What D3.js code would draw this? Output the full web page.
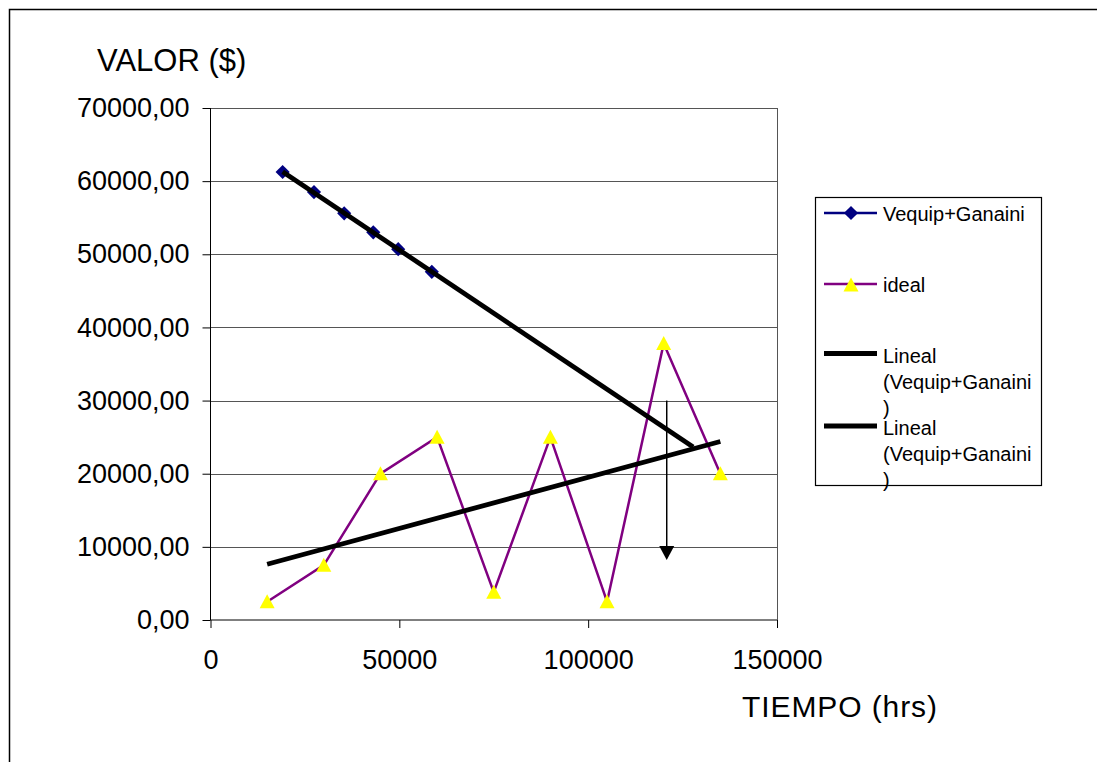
<!DOCTYPE html>
<html lang="es">
<head>
<meta charset="UTF-8"/>
<title>Valor vs Tiempo</title>
<script src="https://d3js.org/d3.v7.min.js"></script>
<style>
	body{ margin:0; background:#fff; }
	svg text{ font-family: "Liberation Sans", Arial, Helvetica, sans-serif; fill:#000; }
</style>
</head>
<body>
<script>
// series data
var vequipX = [19100, 27400, 35400, 43100, 49700, 58600];
var vequipY = [61250, 58500, 55600, 53000, 50700, 47600];
var idealX = [15000, 30000, 45000, 60000, 75000, 90000, 105000, 120000, 135000];
var idealY = [2500, 7500, 20000, 25000, 3800, 25000, 2500, 37800, 20000];
var yTicks = [0, 10000, 20000, 30000, 40000, 50000, 60000, 70000];
var xTicks = [0, 50000, 100000, 150000];
var vequipTrendEnd = 127800;   // trendline forecast forward
var arrowX = 120800, arrowFrom = 30000, arrowTo = 8200;
var legendNames = ["Vequip+Ganaini", "ideal", "Lineal\n(Vequip+Ganaini\n)", "Lineal\n(Vequip+Ganaini\n)"];

var w = 1097, h = 762;
var svg = d3.select("body").append("svg").attr("width", w).attr("height", h);

// chart frame
svg.append("rect").attr("x", 9.5).attr("y", 9.5).attr("width", 1120).attr("height", 800)
	.attr("fill", "none").attr("stroke", "#000").attr("stroke-width", 1.5);

var x = d3.scaleLinear().domain([0, 150000]).range([210.5, 777]);
var y = d3.scaleLinear().domain([0, 70000]).range([620, 108]);

var fmtY = function(d){ return d3.format(".2f")(d).replace(".", ","); };

// gridlines
svg.append("g").selectAll("line").data(yTicks.slice(1)).enter().append("line")
	.attr("x1", x(0)).attr("x2", x(150000))
	.attr("y1", function(d){ return Math.round(y(d)) + 0.5; })
	.attr("y2", function(d){ return Math.round(y(d)) + 0.5; })
	.attr("stroke", "#555").attr("stroke-width", 1);
svg.append("line").attr("x1", 777.5).attr("x2", 777.5).attr("y1", y(70000)).attr("y2", y(0))
	.attr("stroke", "#555");

// axes
var yAxis = d3.axisLeft(y).tickValues(yTicks).tickFormat(fmtY).tickSize(8).tickPadding(13);
var gy = svg.append("g").attr("transform", "translate(" + x(0) + ",0)").call(yAxis);
var xAxis = d3.axisBottom(x).tickValues(xTicks).tickFormat(d3.format("d")).tickSize(8).tickPadding(22);
var gx = svg.append("g").attr("transform", "translate(0," + y(0) + ")").call(xAxis);
[gy, gx].forEach(function(g){
	g.select(".domain").attr("stroke", "#000");
	g.selectAll(".tick line").attr("stroke", "#000");
	g.selectAll("text").style("font-size", "27px").attr("font-family", null);
});
gy.select(".domain").attr("d", "M0," + y(70000) + "V" + y(0));
gx.select(".domain").attr("d", "M" + x(0) + ",0H" + x(150000));

// axis titles
svg.append("text").attr("x", 97).attr("y", 71).style("font-size", "31px").text("VALOR ($)");
svg.append("text").attr("x", 742).attr("y", 717).style("font-size", "30px")
	.attr("textLength", 195).text("TIEMPO (hrs)");

var line = d3.line().x(function(d){ return x(d[0]); }).y(function(d){ return y(d[1]); });
var vequip = d3.zip(vequipX, vequipY);
var ideal = d3.zip(idealX, idealY);

function fit(xs, ys){
	var mx = d3.mean(xs), my = d3.mean(ys);
	var b = d3.sum(xs, function(v, i){ return (v - mx) * (ys[i] - my); }) /
		d3.sum(xs, function(v){ return (v - mx) * (v - mx); });
	return function(v){ return my + b * (v - mx); };
}
var fV = fit(vequipX, vequipY), fI = fit(idealX, idealY);

// series
svg.append("path").datum(vequip).attr("d", line).attr("fill", "none")
	.attr("stroke", "#000080").attr("stroke-width", 2.5);
var diamond = d3.symbol().type(d3.symbolSquare).size(100);
svg.append("g").selectAll("path").data(vequip).enter().append("path")
	.attr("d", diamond)
	.attr("transform", function(d){ return "translate(" + x(d[0]) + "," + y(d[1]) + ") rotate(45)"; })
	.attr("fill", "#000080");

svg.append("path").datum(ideal).attr("d", line).attr("fill", "none")
	.attr("stroke", "#800080").attr("stroke-width", 2.5);
var tri = "M0,-7.5L7.5,6.5L-7.5,6.5Z";
svg.append("g").selectAll("path").data(ideal).enter().append("path")
	.attr("d", tri)
	.attr("transform", function(d){ return "translate(" + x(d[0]) + "," + y(d[1]) + ")"; })
	.attr("fill", "#ffff00");

// trendlines
var tV = [[vequipX[0], fV(vequipX[0])], [vequipTrendEnd, fV(vequipTrendEnd)]];
var tI = [[idealX[0], fI(idealX[0])], [idealX[idealX.length - 1], fI(idealX[idealX.length - 1])]];
[tV, tI].forEach(function(t){
	svg.append("path").datum(t).attr("d", line).attr("fill", "none")
		.attr("stroke", "#000").attr("stroke-width", 4.8);
});

// arrow annotation
svg.append("line").attr("x1", x(arrowX)).attr("x2", x(arrowX))
	.attr("y1", y(arrowFrom)).attr("y2", y(arrowTo) - 12)
	.attr("stroke", "#000").attr("stroke-width", 1.5);
svg.append("path")
	.attr("d", "M-7.5,-14L7.5,-14L0,0Z")
	.attr("transform", "translate(" + x(arrowX) + "," + y(arrowTo) + ")")
	.attr("fill", "#000");

// legend
var lg = svg.append("g");
lg.append("rect").attr("x", 815.5).attr("y", 197.5).attr("width", 226).attr("height", 288)
	.attr("fill", "#fff").attr("stroke", "#000").attr("stroke-width", 1.2);
var rowY = [213, 284, 353.5, 426];
var textY = [221, 292, 363, 435];
legendNames.forEach(function(name, i){
	var ly = rowY[i];
	if (i == 0){
		lg.append("line").attr("x1", 824).attr("x2", 877).attr("y1", ly).attr("y2", ly)
			.attr("stroke", "#000080").attr("stroke-width", 2.5);
		lg.append("path").attr("d", diamond)
			.attr("transform", "translate(851," + ly + ") rotate(45)").attr("fill", "#000080");
	} else if (i == 1){
		lg.append("line").attr("x1", 824).attr("x2", 877).attr("y1", ly).attr("y2", ly)
			.attr("stroke", "#800080").attr("stroke-width", 2.5);
		lg.append("path").attr("d", tri)
			.attr("transform", "translate(851," + (ly + 1) + ")").attr("fill", "#ffff00");
	} else {
		lg.append("line").attr("x1", 824).attr("x2", 877).attr("y1", ly).attr("y2", ly)
			.attr("stroke", "#000").attr("stroke-width", 4.8);
	}
	var t = lg.append("text").attr("x", 883).attr("y", textY[i]).style("font-size", "20px");
	name.split("\n").forEach(function(part, j){
		t.append("tspan").attr("x", 883).attr("dy", j == 0 ? 0 : 26).text(part);
	});
});
</script>
</body>
</html>
